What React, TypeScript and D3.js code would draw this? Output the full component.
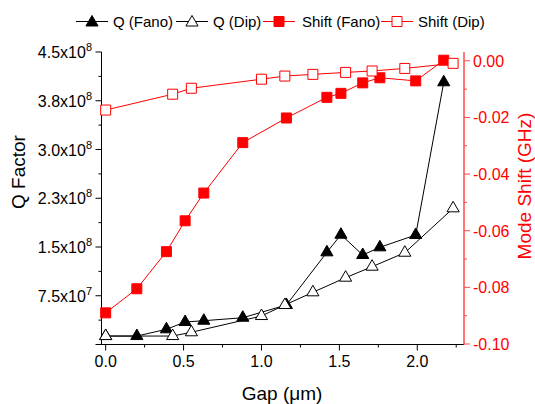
import React from "react";
import * as d3 from "d3";

const gapFano = [0, 0.2, 0.39, 0.51, 0.63, 0.88, 1.16, 1.42, 1.51, 1.65, 1.76, 1.99, 2.17];
const qFano = [0.13e8, 0.13e8, 0.234e8, 0.346e8, 0.366e8, 0.412e8, 0.608e8, 1.418e8, 1.689e8, 1.377e8, 1.495e8, 1.685e8, 4.034e8];
const shiftFano = [-0.089, -0.0805, -0.0674, -0.0565, -0.0467, -0.0289, -0.0202, -0.0129, -0.0115, -0.0078, -0.006, -0.0071, 0.0002];
const gapDip = [0, 0.43, 0.55, 1.0, 1.15, 1.33, 1.54, 1.71, 1.92, 2.23];
const qDip = [0.13e8, 0.13e8, 0.188e8, 0.438e8, 0.608e8, 0.803e8, 1.028e8, 1.197e8, 1.412e8, 2.095e8];
const shiftDip = [-0.0174, -0.0118, -0.0097, -0.0065, -0.0054, -0.0048, -0.0041, -0.0036, -0.0027, -0.0009];

const xTicks = [0, 0.5, 1.0, 1.5, 2.0];
const xMinor = [0.25, 0.75, 1.25, 1.75, 2.25];
const qTicks = [0, 7.5e7, 1.5e8, 2.25e8, 3.0e8, 3.75e8, 4.5e8];
const qTickMant = ["", "7.5x10", "1.5x10", "2.3x10", "3.0x10", "3.8x10", "4.5x10"];
const qTickExp = ["", "7", "8", "8", "8", "8", "8"];
const rTicks = [0, -0.02, -0.04, -0.06, -0.08, -0.1];
const rMinor = [-0.01, -0.03, -0.05, -0.07, -0.09];

const FONT = "'Liberation Sans', Arial, sans-serif";
const RED = "#ff0000";
const AXRED = "#ff4a4a";

export default function App() {
  const x = d3.scaleLinear().domain([-0.03, 2.3]).range([101, 464]);
  const yL = d3.scaleLinear().domain([0, 4.5e8]).range([344.5, 52]);
  const yR = d3.scaleLinear().domain([-0.1, 0.0031]).range([344, 52]);

  const tri = d3.symbol().type(d3.symbolTriangle).size(64)()!;
  const sq = d3.symbol().type(d3.symbolSquare).size(100)()!;

  const lineL = d3.line<[number, number]>().x((d) => x(d[0])).y((d) => yL(d[1]));
  const lineR = d3.line<[number, number]>().x((d) => x(d[0])).y((d) => yR(d[1]));

  const fanoQ = gapFano.map((g, i) => [g, qFano[i]] as [number, number]);
  const dipQ = gapDip.map((g, i) => [g, qDip[i]] as [number, number]);
  const fanoS = gapFano.map((g, i) => [g, shiftFano[i]] as [number, number]);
  const dipS = gapDip.map((g, i) => [g, shiftDip[i]] as [number, number]);

  const qMinor = qTicks.slice(0, -1).map((t) => t + 3.75e7);

  const legend = [
    { x0: 76, label: "Q (Fano)", color: "#000", shape: tri, fill: "#000", tx: 113 },
    { x0: 176, label: "Q (Dip)", color: "#000", shape: tri, fill: "#fff", tx: 213 },
    { x0: 263, label: "Shift (Fano)", color: RED, shape: sq, fill: RED, tx: 302 },
    { x0: 381, label: "Shift (Dip)", color: RED, shape: sq, fill: "#fff", tx: 418 },
  ];

  return (
    <svg width={535} height={404} style={{ position: "absolute", left: 0, top: 0 }} fontFamily={FONT}>
      <rect width={535} height={404} fill="#fff" />
      {/* legend */}
      {legend.map((l, i) => (
        <g key={i}>
          <line x1={l.x0} x2={l.x0 + 32} y1={21.5} y2={21.5} stroke={l.color} strokeWidth={1} />
          <path d={l.shape} transform={`translate(${l.x0 + 16},${l.shape === tri ? 22.5 : 21.5})`} fill={l.fill} stroke={l.color} strokeWidth={1} />
          <text x={l.tx} y={27} fontSize={15} fill="#000">{l.label}</text>
        </g>
      ))}

      {/* x axis */}
      <line x1={101} x2={464} y1={344.5} y2={344.5} stroke="#000" />
      {xTicks.map((t) => (
        <g key={t}>
          <line x1={x(t)} x2={x(t)} y1={344.5} y2={350.5} stroke="#000" />
          <text x={x(t)} y={367} fontSize={16} textAnchor="middle">{t.toFixed(1)}</text>
        </g>
      ))}
      {xMinor.map((t) => (
        <line key={t} x1={x(t)} x2={x(t)} y1={344.5} y2={347.5} stroke="#000" />
      ))}
      <text x={282} y={400} fontSize={19} textAnchor="middle">Gap (μm)</text>

      {/* left axis */}
      <line x1={101.5} x2={101.5} y1={52} y2={344.5} stroke="#000" />
      {qTicks.map((t, i) => (
        <g key={t}>
          <line x1={95.5} x2={101.5} y1={yL(t)} y2={yL(t)} stroke="#000" />
          {qTickMant[i] && (
            <text x={92} y={yL(t) + 6} fontSize={16} textAnchor="end">
              {qTickMant[i]}
              <tspan fontSize={11} dy={-7}>{qTickExp[i]}</tspan>
            </text>
          )}
        </g>
      ))}
      {qMinor.map((t) => (
        <line key={t} x1={98.5} x2={101.5} y1={yL(t)} y2={yL(t)} stroke="#000" />
      ))}
      <text transform="translate(25,172) rotate(-90)" fontSize={19} textAnchor="middle">Q Factor</text>

      {/* right axis */}
      <line x1={464} x2={464} y1={52} y2={344.5} stroke={AXRED} strokeWidth={1.5} />
      {rTicks.map((t) => (
        <g key={t}>
          <line x1={464} x2={470} y1={yR(t)} y2={yR(t)} stroke={AXRED} />
          <text x={473} y={yR(t) + 6} fontSize={16} fill={RED}>{t.toFixed(2)}</text>
        </g>
      ))}
      {rMinor.map((t) => (
        <line key={t} x1={464} x2={467} y1={yR(t)} y2={yR(t)} stroke={AXRED} />
      ))}
      <text transform="translate(531,186) rotate(-90)" fontSize={19} textAnchor="middle" fill={RED}>Mode Shift (GHz)</text>

      {/* series */}
      <path d={lineL(fanoQ)!} fill="none" stroke="#000" strokeWidth={1} />
      {fanoQ.map((d, i) => (
        <path key={i} d={tri} transform={`translate(${x(d[0])},${yL(d[1])})`} fill="#000" stroke="#000" />
      ))}
      <path d={lineL(dipQ)!} fill="none" stroke="#000" strokeWidth={1} />
      {dipQ.map((d, i) => (
        <path key={i} d={tri} transform={`translate(${x(d[0])},${yL(d[1])})`} fill="#fff" stroke="#000" />
      ))}
      <path d={lineR(fanoS)!} fill="none" stroke={RED} strokeWidth={1} />
      {fanoS.map((d, i) => (
        <path key={i} d={sq} transform={`translate(${x(d[0])},${yR(d[1])})`} fill={RED} stroke={RED} />
      ))}
      <path d={lineR(dipS)!} fill="none" stroke={RED} strokeWidth={1} />
      {dipS.map((d, i) => (
        <path key={i} d={sq} transform={`translate(${x(d[0])},${yR(d[1])})`} fill="#fff" stroke={RED} />
      ))}
    </svg>
  );
}
